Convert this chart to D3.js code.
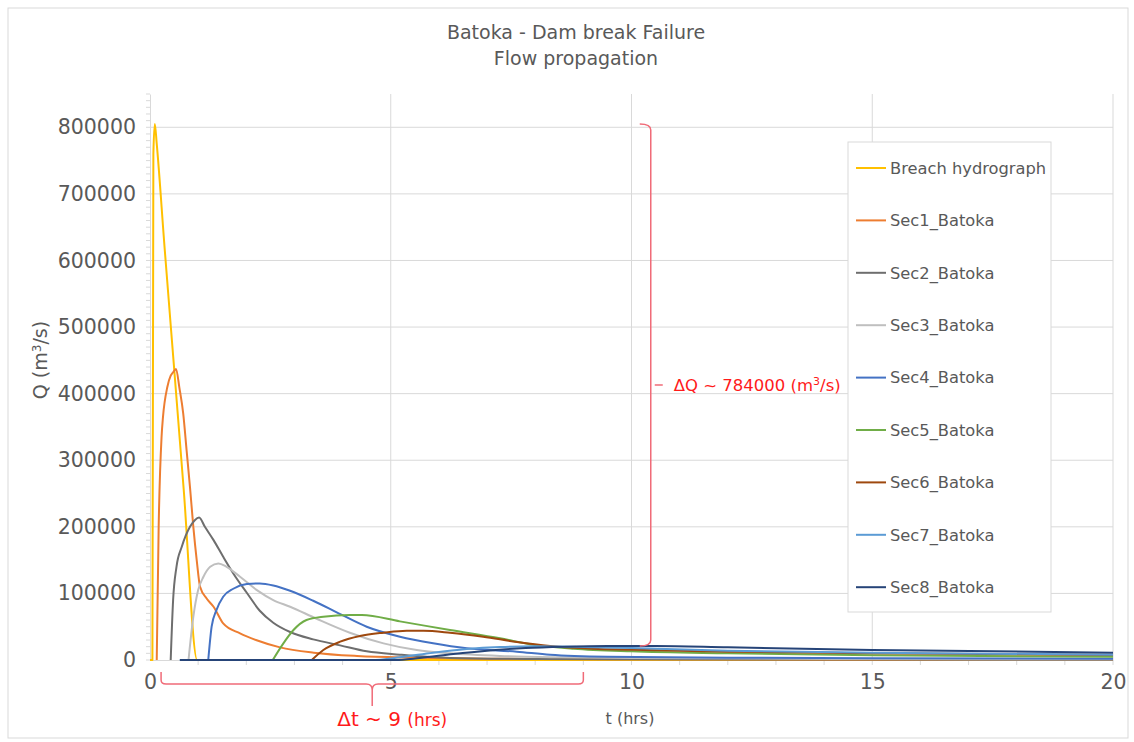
<!DOCTYPE html>
<html>
<head>
<meta charset="utf-8">
<script src="https://cdn.jsdelivr.net/npm/d3@7"></script>
<style>
  body { margin: 0; background: #fff; }
  text { font-family: "DejaVu Sans", Verdana, sans-serif; }
</style>
</head>
<body>
<div id="chart"></div>
<script>
// series names + colours (excel default palette)
var seriesNames = ["Breach hydrograph", "Sec1_Batoka", "Sec2_Batoka", "Sec3_Batoka", "Sec4_Batoka",
  "Sec5_Batoka", "Sec6_Batoka", "Sec7_Batoka", "Sec8_Batoka"];
var seriesColors = ["#ffc000", "#ed7d31", "#6e6e6e", "#bfbfbf", "#4472c4", "#70ad47", "#9e480e", "#5b9bd5", "#264478"];

// time (hrs) and discharge (m3/s)
var breachT = [0, 0.05, 0.07, 0.1, 0.14, 0.3, 0.5, 0.7, 0.98, 20];
var breachQ = [0, 0, 760000, 805000, 775000, 622000, 439000, 256000, 0, 0];

var sec1T = [0.14, 0.18, 0.24, 0.27, 0.36, 0.43, 0.48, 0.54, 0.61, 0.69, 0.76, 0.83, 0.9, 0.97, 1.04, 1.18, 1.32, 1.52, 1.87, 2.2, 2.7, 3.4, 4.3, 5.5, 7, 10, 15, 20];
var sec1Q = [0, 200000, 335000, 365000, 410000, 427000, 432000, 437000, 409000, 370000, 315000, 260000, 200000, 150000, 110000, 92000, 80000, 55000, 40000, 30000, 19000, 11000, 6000, 3500, 2000, 1000, 500, 300];

var sec2T = [0.43, 0.48, 0.55, 0.66, 0.83, 0.93, 1.02, 1.14, 1.32, 1.52, 1.73, 2.01, 2.28, 2.56, 2.91, 3.39, 3.95, 4.5, 5.19, 6.23, 8, 10, 15, 20];
var sec2Q = [0, 90000, 140000, 170000, 200000, 210000, 214000, 200000, 180000, 155000, 130000, 101000, 74000, 56000, 42000, 31000, 22000, 13000, 8000, 3000, 1500, 1000, 600, 400];

var sec3T = [0.8, 0.9, 1.0, 1.11, 1.25, 1.42, 1.59, 1.87, 2.22, 2.56, 2.91, 3.46, 4.15, 4.85, 5.54, 6.23, 7.27, 8.5, 10, 15, 20];
var sec3Q = [0, 65000, 105000, 125000, 140000, 145000, 140000, 125000, 105000, 90000, 80000, 62000, 41000, 25000, 15000, 10000, 6000, 4000, 3000, 1500, 1000];

var sec4T = [1.21, 1.28, 1.38, 1.52, 1.73, 2.01, 2.28, 2.56, 2.91, 3.39, 3.95, 4.5, 5.19, 5.88, 6.58, 7.62, 8.31, 9.5, 12, 15, 20];
var sec4Q = [0, 50000, 75000, 95000, 107000, 114000, 115000, 112000, 104000, 89000, 69000, 50000, 35000, 25000, 17500, 12500, 8000, 5000, 3500, 2500, 2000];

var sec5T = [2.55, 2.77, 2.98, 3.25, 3.6, 4.15, 4.4, 5.19, 6.23, 7.27, 7.96, 8.8, 10, 12, 15, 20];
var sec5Q = [0, 25000, 45000, 60000, 65000, 67500, 67500, 58000, 45000, 32500, 23000, 17000, 13000, 10000, 7000, 5000];

var sec6T = [3.36, 3.6, 3.95, 4.36, 4.85, 5.33, 5.68, 6.23, 6.92, 7.62, 8.31, 9.2, 10, 12, 15, 20];
var sec6Q = [0, 15000, 27500, 36000, 41000, 44000, 44000, 41000, 35000, 27000, 21000, 17000, 15500, 12500, 10000, 7500];

var sec7T = [0.62, 4.6, 5.19, 5.88, 6.58, 7.27, 7.96, 8.8, 10, 12, 15, 20];
var sec7Q = [0, 0, 4000, 11000, 16500, 19500, 20500, 20000, 18000, 14000, 11000, 8000];

var sec8T = [0.62, 5.1, 5.6, 6.3, 7.0, 7.8, 8.6, 9.5, 10.5, 12, 15, 20];
var sec8Q = [0, 0, 3000, 9000, 14000, 18000, 20000, 21000, 21000, 19000, 15000, 11000];

var xTicks = [0, 5, 10, 15, 20];
var yTicks = [0, 100000, 200000, 300000, 400000, 500000, 600000, 700000, 800000];

// annotation values
var dQ = { t: 10.4, qLow: 21000, qHigh: 805000, label: "ΔQ ~ 784000" };
var dT = { tStart: 0.23, tEnd: 9.0, label: "Δt ~ 9" };

var allT = [breachT, sec1T, sec2T, sec3T, sec4T, sec5T, sec6T, sec7T, sec8T];
var allQ = [breachQ, sec1Q, sec2Q, sec3Q, sec4Q, sec5Q, sec6Q, sec7Q, sec8Q];

var W = 1134, H = 742;
var margin = { top: 94, right: 21, bottom: 82, left: 150 };
var width = W - margin.left - margin.right,
  height = H - margin.top - margin.bottom;

var svg = d3.select("#chart").append("svg").attr("width", W).attr("height", H);

// chart border
svg.append("rect").attr("x", 8).attr("y", 8).attr("width", W - 14).attr("height", H - 12)
  .attr("fill", "none").attr("stroke", "#d9d9d9");

var g = svg.append("g").attr("transform", "translate(" + margin.left + "," + margin.top + ")");

var x = d3.scaleLinear().domain([0, 20]).range([0, width]);
var y = d3.scaleLinear().domain([0, 850000]).range([height, 0]);

// gridlines
g.append("g").selectAll("line").data(yTicks.slice(1)).enter().append("line")
  .attr("x1", 0).attr("x2", width)
  .attr("y1", (d) => y(d)).attr("y2", (d) => y(d))
  .attr("stroke", "#d9d9d9");
g.append("g").selectAll("line").data(xTicks.slice(1)).enter().append("line")
  .attr("x1", (d) => x(d)).attr("x2", (d) => x(d))
  .attr("y1", 0).attr("y2", height)
  .attr("stroke", "#d9d9d9");

// minor ticks
g.append("g").selectAll("line").data(d3.range(0, 850001, 10000)).enter().append("line")
  .attr("x1", -4).attr("x2", 0)
  .attr("y1", (d) => y(d)).attr("y2", (d) => y(d))
  .attr("stroke", "#d9d9d9");
g.append("g").selectAll("line").data(d3.range(1, 21, 1)).enter().append("line")
  .attr("x1", (d) => x(d)).attr("x2", (d) => x(d))
  .attr("y1", height).attr("y2", height + 5)
  .attr("stroke", "#d9d9d9");

// axes
var yAxis = d3.axisLeft(y).tickValues(yTicks).tickSize(0).tickPadding(14).tickFormat(d3.format("d"));
var xAxis = d3.axisBottom(x).tickValues(xTicks).tickSize(0).tickPadding(14);
var yg = g.append("g").call(yAxis);
var xg = g.append("g").attr("transform", "translate(0," + height + ")").call(xAxis);
[yg, xg].forEach(function (a) {
  a.select(".domain").attr("stroke", "#d9d9d9");
  a.selectAll("text").style("font-size", "20.5px").style("fill", "#595959")
    .style("font-family", "'DejaVu Sans', Verdana, sans-serif");
});

// lines
var line = d3.line()
  .x((d) => x(d[0]))
  .y((d) => y(d[1]))
  .curve(d3.curveMonotoneX);

g.append("g").selectAll("path").data(allT).enter().append("path")
  .attr("d", function (d, i) {
    return line(d.map((t, j) => [t, allQ[i][j]]));
  })
  .attr("fill", "none")
  .attr("stroke", (d, i) => seriesColors[i])
  .attr("stroke-width", 2)
  .attr("stroke-linejoin", "round");

// titles
svg.append("text").attr("x", 576).attr("y", 39).attr("text-anchor", "middle")
  .style("font-size", "19px").style("fill", "#595959").text("Batoka - Dam break Failure");
svg.append("text").attr("x", 576).attr("y", 65).attr("text-anchor", "middle")
  .style("font-size", "19px").style("fill", "#595959").text("Flow propagation");

svg.append("text").attr("x", 630).attr("y", 724).attr("text-anchor", "middle")
  .style("font-size", "16px").style("fill", "#595959").text("t (hrs)");

var yTitle = svg.append("text")
  .attr("transform", "translate(47,360)rotate(-90)")
  .attr("text-anchor", "middle")
  .style("font-size", "19px").style("fill", "#595959");
yTitle.append("tspan").text("Q (m");
yTitle.append("tspan").attr("dy", -6).style("font-size", "12px").text("3");
yTitle.append("tspan").attr("dy", 6).text("/s)");

// annotations (red brackets)
var red = "#ff1a1a", pink = "#f06b78";
var bx = x(dQ.t), byTop = y(dQ.qHigh), byBot = y(dQ.qLow), byMid = (byTop + byBot) / 2;
g.append("path")
  .attr("d", "M" + (bx - 11) + "," + byTop + "Q" + bx + "," + byTop + " " + bx + "," + (byTop + 6) +
    "L" + bx + "," + (byBot - 6) + "Q" + bx + "," + byBot + " " + (bx - 11) + "," + byBot)
  .attr("fill", "none").attr("stroke", pink).attr("stroke-width", 1.5);
g.append("line").attr("x1", bx + 4).attr("x2", bx + 12).attr("y1", byMid).attr("y2", byMid)
  .attr("stroke", pink).attr("stroke-width", 1.5);
var dqText = g.append("text").attr("x", bx + 23).attr("y", byMid).attr("dy", "0.35em")
  .style("fill", red).style("font-size", "16.5px");
dqText.append("tspan").text(dQ.label + " (m");
dqText.append("tspan").attr("dy", -6).style("font-size", "11px").text("3");
dqText.append("tspan").attr("dy", 6).text("/s)");

var tx1 = x(dT.tStart), tx2 = x(dT.tEnd), tMid = (tx1 + tx2) / 2, ty = height + 24;
g.append("path")
  .attr("d", "M" + tx1 + "," + (height + 12) + "L" + tx1 + "," + (ty - 4) + "Q" + tx1 + "," + ty + " " + (tx1 + 5) + "," + ty +
    "L" + (tMid - 6) + "," + ty + "Q" + tMid + "," + ty + " " + tMid + "," + (ty + 6) +
    "Q" + tMid + "," + ty + " " + (tMid + 6) + "," + ty +
    "L" + (tx2 - 5) + "," + ty + "Q" + tx2 + "," + ty + " " + tx2 + "," + (ty - 4) + "L" + tx2 + "," + (height + 12))
  .attr("fill", "none").attr("stroke", pink).attr("stroke-width", 1.5);
g.append("line").attr("x1", tMid).attr("x2", tMid).attr("y1", ty + 6).attr("y2", ty + 22)
  .attr("stroke", pink).attr("stroke-width", 1.5);
var dtText = g.append("text").attr("x", tMid + 20).attr("y", height + 66).attr("text-anchor", "middle")
  .style("fill", red);
dtText.append("tspan").style("font-size", "20px").text(dT.label + " ");
dtText.append("tspan").style("font-size", "17px").text("(hrs)");

// legend
var legend = svg.append("g");
legend.append("rect").attr("x", 848).attr("y", 142).attr("width", 203).attr("height", 470)
  .attr("fill", "#fff").attr("stroke", "#d9d9d9");
var item = legend.selectAll(".legend").data(seriesNames).enter().append("g")
  .attr("class", "legend")
  .attr("transform", (d, i) => "translate(856," + (168 + i * 52.4) + ")");
item.append("line").attr("x1", 0).attr("x2", 30).attr("y1", 0).attr("y2", 0)
  .attr("stroke", (d, i) => seriesColors[i]).attr("stroke-width", 2);
item.append("text").attr("x", 34).attr("dy", "0.35em")
  .style("font-size", "16.3px").style("fill", "#595959").text((d) => d);
</script>
</body>
</html>
